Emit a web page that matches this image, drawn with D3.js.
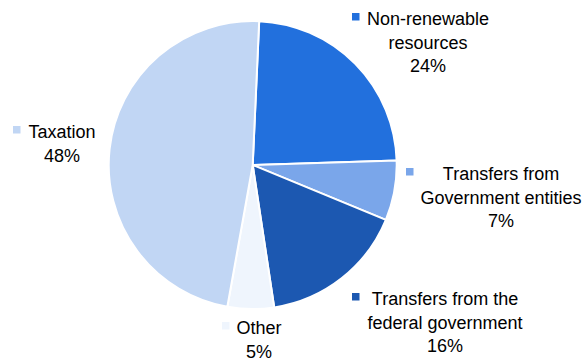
<!DOCTYPE html>
<html>
<head>
<meta charset="utf-8">
<script src="https://cdnjs.cloudflare.com/ajax/libs/d3/7.8.5/d3.min.js"></script>
<style>
  body { margin: 0; background: #fff; }
  text { font-family: "Liberation Sans", Arial, sans-serif; font-size: 18px; fill: #000; }
</style>
</head>
<body>
<script>

// data
var categories = ["Non-renewable resources", "Transfers from Government entities",
  "Transfers from the federal government", "Other", "Taxation"];
var shares = [23.8, 6.7, 16.4, 5.2, 47.9];
var labelLines = [["Non-renewable", "resources"], ["Transfers from", "Government entities"],
  ["Transfers from the", "federal government"], ["Other"], ["Taxation"]];

// layout / style
var w = 585, h = 362;
var cx = 252.7, cy = 165, radius = 144;
var startAngle = 0.045;
var colors = ["#2270DD", "#7AA6EA", "#1C58B1", "#EFF5FD", "#C1D6F4"];
// label block centre x, first baseline y, key square x
var labelPos = [
  {x: 428, y: 25, key: 352},
  {x: 501, y: 180, key: 406},
  {x: 445, y: 305, key: 352},
  {x: 259, y: 334, key: 222},
  {x: 62, y: 138, key: 13}
];
var lineH = 23.5;

var svg = d3.select("body").append("svg")
  .attr("width", w)
  .attr("height", h);

var pie = d3.pie()
  .sort(null)
  .startAngle(startAngle)
  .endAngle(startAngle + 2 * Math.PI)
  .value(function(d) { return d; });

var arc = d3.arc().innerRadius(0).outerRadius(radius);

var g = svg.append("g").attr("transform", "translate(" + cx + "," + cy + ")");

g.selectAll("path")
  .data(pie(shares))
  .enter()
  .append("path")
  .attr("d", arc)
  .attr("fill", function(d, i) { return colors[i]; })
  .attr("stroke", "#fff")
  .attr("stroke-width", 2)
  .attr("stroke-linejoin", "round");

var labels = svg.selectAll("g.label")
  .data(shares)
  .enter()
  .append("g")
  .attr("class", "label");

labels.append("rect")
  .attr("x", function(d, i) { return labelPos[i].key; })
  .attr("y", function(d, i) { return labelPos[i].y - 12; })
  .attr("width", 7.5)
  .attr("height", 7.5)
  .attr("fill", function(d, i) { return colors[i]; });

labels.append("text")
  .attr("text-anchor", "middle")
  .each(function(d, i) {
    var t = d3.select(this);
    var lines = labelLines[i].concat([Math.round(d) + "%"]);
    lines.forEach(function(s, j) {
      t.append("tspan")
        .attr("x", labelPos[i].x)
        .attr("y", labelPos[i].y + j * lineH)
        .text(s);
    });
  });

</script>
</body>
</html>
